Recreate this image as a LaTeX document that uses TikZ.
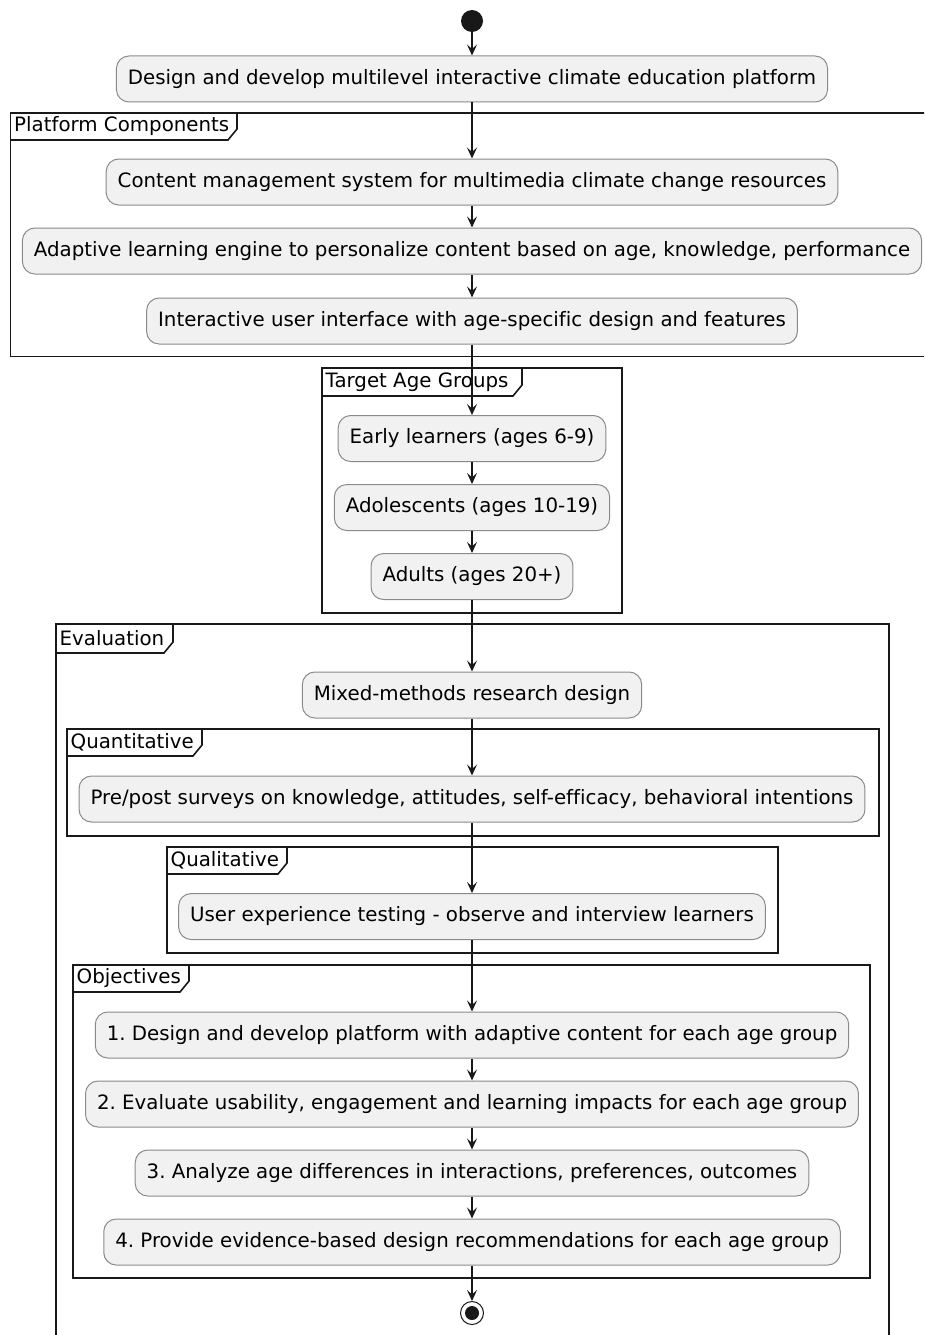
\documentclass[tikz,border=0pt]{standalone}
\usepackage{fontspec}
\setmainfont{DejaVu Sans}[Ligatures=CommonOff]
\usetikzlibrary{arrows.meta}
\frenchspacing
\definecolor{boxfill}{HTML}{F1F1F1}
\definecolor{boxline}{HTML}{8A8A8A}
\definecolor{arrowc}{HTML}{181818}
\tikzset{
  act/.style={draw=boxline, line width=1pt, fill=boxfill, rounded corners=12.5pt,
    inner xsep=11.5pt, inner ysep=0pt, minimum height=46pt,
    font=\fontsize{19.8}{23}\selectfont, text=black},
  flow/.style={draw=arrowc, line width=1.1pt, -{Stealth[length=11pt,width=10pt,inset=4.5pt]}},
  frm/.style={draw=black!90, line width=1.6pt},
  frmlabel/.style={anchor=west, inner sep=0pt, font=\fontsize{19.8}{23}\selectfont}
}
\newcommand{\umlframe}[6]{% left top right bottom tabright tabbottom
  \draw[frm] (#1,#2) rectangle (#3,#4);
  \draw[frm] (#1,#6) -- (#5-9,#6) -- (#5,#6-11) -- (#5,#2);
}
\begin{document}
\begin{tikzpicture}[x=1pt,y=-1pt]
\useasboundingbox (0,0) rectangle (924,1335);
\clip (0,0) rectangle (924,1335);
\fill[white] (0,0) rectangle (924,1335);

% frames
\umlframe{10.5}{113}{930}{356.5}{237}{140}
\node[frmlabel] (lplat) at (14,126.5) {Platform Components};
\umlframe{322}{368}{622}{613}{522}{396}
\node[frmlabel] (ltarget) at (325.5,382) {Target Age Groups};
\umlframe{56}{624}{889}{1360}{173}{653}
\node[frmlabel] (leval) at (59.5,638.5) {Evaluation};
\umlframe{67}{729}{879}{836}{202}{756}
\node[frmlabel] (lquant) at (70.5,742.5) {Quantitative};
\umlframe{167}{847}{778}{953}{287}{874}
\node[frmlabel] (lqual) at (170.5,860.5) {Qualitative};
\umlframe{73}{965}{870}{1278}{189}{992}
\node[frmlabel] (lobj) at (76.5,978.5) {Objectives};

% start / end
\node[circle, fill=arrowc, minimum size=22pt, inner sep=0pt] (start) at (472,21) {};
\node[circle, draw=arrowc, line width=1pt, fill=white, minimum size=23pt, inner sep=0pt] (stop) at (472,1313) {};
\fill[arrowc] (stop.center) circle (7pt);

% activities
\node[act] (design) at (472,79) {Design and develop multilevel interactive climate education platform};
\node[act] (cms) at (472,182) {Content management system for multimedia climate change resources};
\node[act] (adapt) at (472,251) {Adaptive learning engine to personalize content based on age, knowledge, performance};
\node[act] (ui) at (472,321) {Interactive user interface with age-specific design and features};
\node[act] (early) at (472,438.5) {Early learners (ages 6-9)};
\node[act] (adol) at (472,507.5) {Adolescents (ages 10-19)};
\node[act] (adults) at (472,576.5) {Adults (ages 20+)};
\node[act] (mixed) at (472,695) {Mixed-methods research design};
\node[act] (prepost) at (472,799) {Pre/post surveys on knowledge, attitudes, self-efficacy, behavioral intentions};
\node[act] (ux) at (472,916.5) {User experience testing - observe and interview learners};
\node[act] (obja) at (472,1035) {1. Design and develop platform with adaptive content for each age group};
\node[act] (objb) at (472,1104) {2. Evaluate usability, engagement and learning impacts for each age group};
\node[act] (objc) at (472,1173) {3. Analyze age differences in interactions, preferences, outcomes};
\node[act] (objd) at (472,1242) {4. Provide evidence-based design recommendations for each age group};

% flows
\draw[flow] (start) -- (design);
\draw[flow] (design) -- (cms);
\draw[flow] (cms) -- (adapt);
\draw[flow] (adapt) -- (ui);
\draw[flow] (ui) -- (early);
\draw[flow] (early) -- (adol);
\draw[flow] (adol) -- (adults);
\draw[flow] (adults) -- (mixed);
\draw[flow] (mixed) -- (prepost);
\draw[flow] (prepost) -- (ux);
\draw[flow] (ux) -- (obja);
\draw[flow] (obja) -- (objb);
\draw[flow] (objb) -- (objc);
\draw[flow] (objc) -- (objd);
\draw[flow] (objd) -- (stop);
\end{tikzpicture}
\end{document}
